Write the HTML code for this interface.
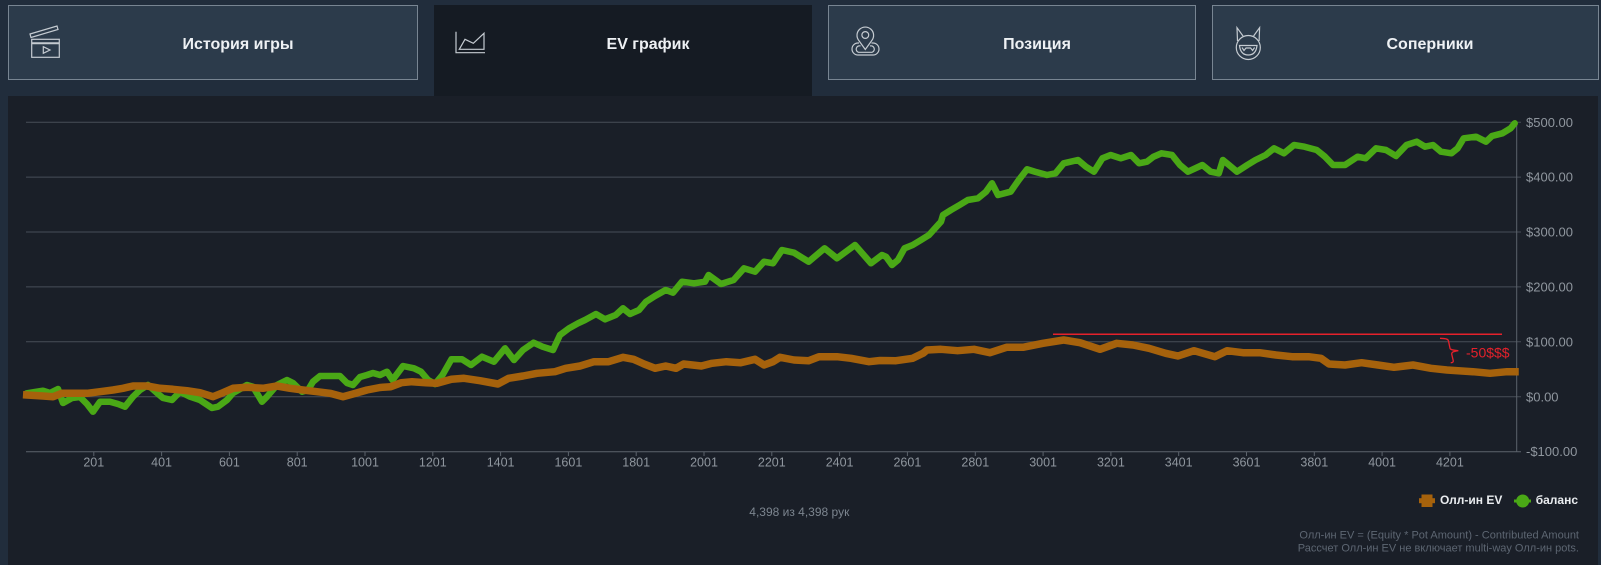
<!DOCTYPE html>
<html><head><meta charset="utf-8">
<style>
*{margin:0;padding:0;box-sizing:border-box}
html,body{width:1601px;height:565px;overflow:hidden;background:#212d3c;font-family:"Liberation Sans","Noto Sans CJK SC",sans-serif}
.tab{position:absolute;top:5px;height:75px;background:#2c3b4b;border:1px solid #788592}
.evtab{position:absolute;left:434px;top:5px;width:378px;height:92px;background:#151b23}
.panel{position:absolute;left:8px;top:96px;width:1590px;height:469px;background:#1a1f28}
.lbl{position:absolute;top:36px;color:#eef1f4;font-weight:bold;font-size:16px;line-height:18px;white-space:nowrap;transform:translateX(-50%)}
svg{position:absolute;left:0;top:0}
</style></head><body>
<div class="tab" style="left:8px;width:410px"></div>
<div class="evtab"></div>
<div class="tab" style="left:828px;width:368px"></div>
<div class="tab" style="left:1212px;width:387px"></div>
<div class="panel"></div>
<div class="lbl" style="left:238px">История игры</div>
<div class="lbl" style="left:648px">EV график</div>
<div class="lbl" style="left:1037px">Позиция</div>
<div class="lbl" style="left:1430px">Соперники</div>

<svg width="1601" height="565" viewBox="0 0 1601 565" xmlns="http://www.w3.org/2000/svg">
<!-- icons -->
<g fill="none" stroke="#c5cbd1" stroke-width="1.2">
  <polygon points="30,34 57,26 58,29.5 31,37.5"/>
  <rect x="31.7" y="39.3" width="27.6" height="18"/>
  <line x1="31.7" y1="43.3" x2="59.3" y2="43.3" stroke-width="2"/>
  <polygon points="43.3,46.7 50,50 43.3,53.3"/>
  <path d="M456,31.7 V52.7 H485"/>
  <path d="M459.3,49.3 L465,39.3 L473.3,43.3 L484,33.3 L484,49.3 Z"/>
  <path d="M865.3,49.5 L858.8,40.5 A8.3,8.3 0 1 1 871.8,40.5 Z"/>
  <circle cx="865.3" cy="35" r="3.4"/>
  <path d="M859,43 H858 A6,6 0 0 0 858,55 H873 A6,6 0 0 0 873,43 H871.5"/>
  <path d="M860.5,46 A3.3,3.3 0 0 0 858.5,52.3 H872 A3.3,3.3 0 0 0 870,46"/>
  <circle cx="1248.3" cy="47.5" r="12"/>
  <path d="M1237.5,41 L1237,27.7 L1243,36"/>
  <path d="M1259.1,41 L1259.6,27.7 L1253.6,36"/>
  <path d="M1239.5,45.5 H1257 Q1256,55 1248.3,55 Q1240.5,55 1239.5,45.5 Z"/>
  <path d="M1242,47.5 L1244,50.5 L1246,48 H1250.6 L1252.6,50.5 L1254.6,47.5"/>
</g>

<!-- grid -->
<g stroke="#474e57" stroke-width="1">
  <line x1="26" y1="122.2" x2="1521" y2="122.2"/>
  <line x1="26" y1="177.1" x2="1521" y2="177.1"/>
  <line x1="26" y1="232.0" x2="1521" y2="232.0"/>
  <line x1="26" y1="286.9" x2="1521" y2="286.9"/>
  <line x1="26" y1="341.8" x2="1521" y2="341.8"/>
  <line x1="26" y1="396.7" x2="1521" y2="396.7"/>
</g>
<g stroke="#5c636c" stroke-width="1">
  <line x1="26" y1="451.8" x2="1521" y2="451.8"/>
  <line x1="1516.7" y1="122" x2="1516.7" y2="452"/>
</g>
<g stroke="#5c636c" stroke-width="1">
  <line x1="93.8" y1="452" x2="93.8" y2="456"/><line x1="161.6" y1="452" x2="161.6" y2="456"/>
  <line x1="229.4" y1="452" x2="229.4" y2="456"/><line x1="297.2" y1="452" x2="297.2" y2="456"/>
  <line x1="365" y1="452" x2="365" y2="456"/><line x1="432.8" y1="452" x2="432.8" y2="456"/>
  <line x1="500.6" y1="452" x2="500.6" y2="456"/><line x1="568.4" y1="452" x2="568.4" y2="456"/>
  <line x1="636.2" y1="452" x2="636.2" y2="456"/><line x1="704" y1="452" x2="704" y2="456"/>
  <line x1="771.8" y1="452" x2="771.8" y2="456"/><line x1="839.6" y1="452" x2="839.6" y2="456"/>
  <line x1="907.4" y1="452" x2="907.4" y2="456"/><line x1="975.3" y1="452" x2="975.3" y2="456"/>
  <line x1="1043.1" y1="452" x2="1043.1" y2="456"/><line x1="1110.9" y1="452" x2="1110.9" y2="456"/>
  <line x1="1178.7" y1="452" x2="1178.7" y2="456"/><line x1="1246.5" y1="452" x2="1246.5" y2="456"/>
  <line x1="1314.3" y1="452" x2="1314.3" y2="456"/><line x1="1382.1" y1="452" x2="1382.1" y2="456"/>
  <line x1="1449.9" y1="452" x2="1449.9" y2="456"/>
</g>

<!-- y labels -->
<g font-family="Liberation Sans, sans-serif" font-size="13" fill="#8f969e">
  <text x="1526" y="126.8">$500.00</text>
  <text x="1526" y="181.7">$400.00</text>
  <text x="1526" y="236.6">$300.00</text>
  <text x="1526" y="291.5">$200.00</text>
  <text x="1526" y="346.4">$100.00</text>
  <text x="1526" y="401.3">$0.00</text>
  <text x="1526" y="456.2">-$100.00</text>
</g>
<!-- x labels -->
<g font-family="Liberation Sans, sans-serif" font-size="12.5" fill="#8f969e" text-anchor="middle">
  <text x="93.8" y="466.5">201</text><text x="161.6" y="466.5">401</text>
  <text x="229.4" y="466.5">601</text><text x="297.2" y="466.5">801</text>
  <text x="365" y="466.5">1001</text><text x="432.8" y="466.5">1201</text>
  <text x="500.6" y="466.5">1401</text><text x="568.4" y="466.5">1601</text>
  <text x="636.2" y="466.5">1801</text><text x="704" y="466.5">2001</text>
  <text x="771.8" y="466.5">2201</text><text x="839.6" y="466.5">2401</text>
  <text x="907.4" y="466.5">2601</text><text x="975.3" y="466.5">2801</text>
  <text x="1043.1" y="466.5">3001</text><text x="1110.9" y="466.5">3201</text>
  <text x="1178.7" y="466.5">3401</text><text x="1246.5" y="466.5">3601</text>
  <text x="1314.3" y="466.5">3801</text><text x="1382.1" y="466.5">4001</text>
  <text x="1449.9" y="466.5">4201</text>
</g>

<!-- green balance -->
<polyline fill="none" stroke="#4aa816" stroke-width="6.5" stroke-linejoin="round" stroke-linecap="round" points="
26.7,393.3 35,392 43,390.7 50,393 58,389 63,403 72,398 80,397 87,404 93,411.7 100,401.7 110,401.7 118,404 125,406.7
133,396.7 140,390 148,385 157,393 163,398 172,400 180,391.7 190,396.7 200,400 212,408 218,406.7 227,400 233,393
240,389 247,385 253,386.7 258,395 262,401.7 267,396.7 277,385 287,380 293,383 302,391.7 308,390 313,381.7 320,376
333,376 340,376 347,383 353,385 360,377 367,375 373,373 380,375 387,371.7 392.5,380 403,366 414,368.3 421,371.7
428,380 435,384 442.5,375 451.4,359.3 462,359.3 471,365 482,356.7 494,361.7 505,348.3 514,360 523,350 533.6,342.7
542.5,346.7 553,350 560,335 569,328.3 578,323.3 585,320 596,314 605,319.3 615.7,315 623,308.3 630,314 639,310
646,301.7 655,296 665.7,290 673,292.7 682,281.7 694,283.3 705,281.7 708.6,275 721,284 733.6,280 744,268.3 755,271.7
764,261.7 773,263.3 782,250 794,252.7 808.6,261.7 824.6,248.3 837,258.3 855,245 871,263.3 882,255 886,256.7 892,265
898,260 904.5,248.3 912.7,245 921,240 929,235 935,228.3 941,221.7 943,215 951,210 959.6,205 967.8,200 978,198.3
986,191.7 992,183.3 998,195 1010.6,191.7 1018.8,180 1027,169.3 1035,171.7 1047,175 1055.5,173.3 1063.7,163.3
1078,160 1086,166.7 1094,171.7 1102.4,158.3 1110.6,155 1120.8,158.3 1131,155 1139,163.3 1147,161.7 1153.5,156.7
1161.6,153.3 1172,155 1180,165 1188,171.7 1202.4,165 1210.6,171.7 1218.8,173.3 1222.9,160 1229,165 1237,171.7
1247.3,165 1255.5,160 1265.7,155 1274,148.3 1284,153.3 1294,145 1304.5,146.7 1316.7,150 1325,156.7 1333,165
1345,165 1357.6,156.7 1365.7,158.3 1376,148.3 1386,150 1396,156 1406.5,145 1416.7,141.7 1425,146.7 1433,145
1441,151.7 1451.4,153.3 1457.6,148.3 1463.7,138.3 1476,136.7 1486,141.7 1492,136 1502.4,133.3 1510.6,128.3 1514.7,123.3"/>

<!-- orange all-in EV -->
<polyline fill="none" stroke="#a6620c" stroke-width="7.5" stroke-linejoin="round" stroke-linecap="square" points="
26.7,395 43,396 53,396.7 62,393.3 73,393.3 87,393.3 100,391.7 113,390 123,388.3 133,386 147,386 160,388.3 173,389.3
187,390.7 200,392.7 213,396.7 223,392.7 233,388.3 247,387.3 263,388.3 277,386 290,388.3 303,390 317,391.7 330,393.3
343,396.7 353,394 367,390 380,387.5 390.7,386.7 401.4,382.7 412,381.7 426,382.7 437,383.3 451.4,379.3 464,378.3
480,380.7 498,384 508.6,378.3 523,376 537,373.3 555,371.7 565.7,368.3 580,366 594,361.7 608.6,361.7 623,357.3
633.6,359.3 644,364 655,368.3 665.7,366 676,368.3 683.6,364 701.4,366 712,363.3 726.4,361.7 740.7,362.7 755,359.3
764,365 773,361.7 780,357.3 794,360 808.6,360.7 819,356.7 837,356.7 851,358.3 869,361.7 880,360.5 896,360.7
912.7,358.3 923,353.3 927,350 941,349.3 957.6,350.7 974,349.3 990,352.7 1006.5,347.3 1023,347.3 1043,343.3
1063.7,340 1080,342.7 1100,349.3 1116.7,343.3 1133,345 1149,348.3 1165.7,353.3 1178,356 1194,350.7 1214.7,356.7
1227,350.7 1243,352.7 1259.6,352.7 1276,355 1292,356.7 1308.6,356.7 1321,358.3 1329,364 1345,365 1361.6,362.7
1378,365 1394,367.3 1413,365 1431,368.3 1447,370 1473,371.7 1490,373.3 1507,371.7 1515,371.7"/>

<!-- annotation -->
<line x1="1053" y1="334.3" x2="1502" y2="334.3" stroke="#e5212b" stroke-width="1.5"/>
<path d="M1440,338.3 C1446,338.5 1448.3,339 1448.5,341 L1450,348.3 C1450.5,350 1454,350.2 1458.3,350.7 C1453,351.5 1451.7,352 1451.7,354 L1453.3,361 C1453.3,362.3 1452,362.7 1450.7,362.7" fill="none" stroke="#e5212b" stroke-width="1.3"/>
<text x="1466" y="357.7" font-family="Liberation Sans, sans-serif" font-size="14" fill="#e5212b">-50$$$</text>

<!-- legend -->
<line x1="1419" y1="500.7" x2="1435" y2="500.7" stroke="#a6620c" stroke-width="5"/>
<rect x="1421.5" y="494.5" width="11" height="12.5" fill="#a6620c"/>
<text x="1440" y="503.8" font-family="Liberation Sans, sans-serif" font-size="12" font-weight="bold" fill="#e9ecef">Олл-ин EV</text>
<line x1="1514" y1="501" x2="1531" y2="501" stroke="#4aa816" stroke-width="3"/>
<circle cx="1522.7" cy="501" r="6.5" fill="#4aa816"/>
<text x="1535.7" y="503.8" font-family="Liberation Sans, sans-serif" font-size="12" font-weight="bold" fill="#e9ecef">баланс</text>

<text x="799.3" y="515.8" text-anchor="middle" font-family="Liberation Sans, sans-serif" font-size="12" fill="#7c858f">4,398 из 4,398 рук</text>
<g font-family="Liberation Sans, sans-serif" font-size="11" fill="#5d6672" text-anchor="end">
  <text x="1579" y="538.5">Олл-ин EV = (Equity * Pot Amount) - Contributed Amount</text>
  <text x="1579" y="551.5">Рассчет Олл-ин EV не включает multi-way Олл-ин pots.</text>
</g>
</svg>
</body></html>
